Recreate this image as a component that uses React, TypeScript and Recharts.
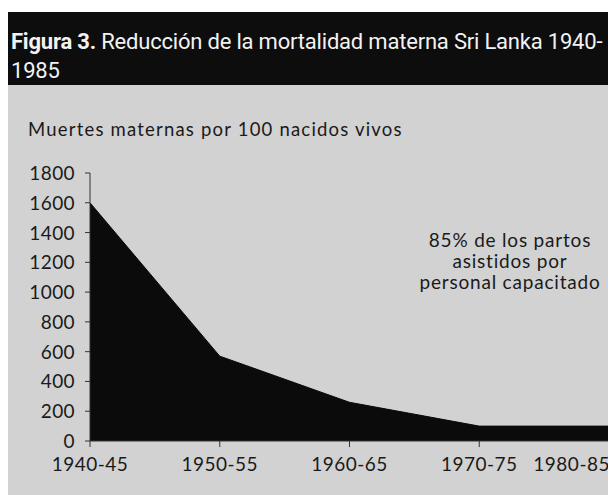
import React from 'react';
import { AreaChart, Area, XAxis, YAxis } from 'recharts';

const categories = ['1940-45', '1950-55', '1960-65', '1970-75', '1980-85'];
const deaths = [1600, 570, 260, 100, 100];
const yTicks = [0, 200, 400, 600, 800, 1000, 1200, 1400, 1600, 1800];

const data = categories.map((c, i) => ({ period: c, value: deaths[i] }));

const FONT = 'Lato, "Open Sans", sans-serif';

const XTick = (props: any) => {
  const { x, y, payload, index } = props;
  const last = index === categories.length - 1;
  return (
    <text
      x={last ? x + 1 : x}
      y={y + 22}
      textAnchor={last ? 'end' : 'middle'}
      fontFamily={FONT}
      fontSize={19}
      letterSpacing={0.5}
      fill="#1a1a1a"
    >
      {payload.value}
    </text>
  );
};

const YTick = (props: any) => {
  const { x, y, payload } = props;
  return (
    <text x={x} y={y + 7} textAnchor="end" fontFamily={FONT} fontSize={19} letterSpacing={0.4} fill="#1a1a1a">
      {payload.value}
    </text>
  );
};

export default function App() {
  return (
    <div style={{ width: 608, height: 483, marginTop: 4, position: 'relative', background: '#d2d2d2' }}>
      <div
        style={{
          height: 73,
          background: '#0d0d0d',
          color: '#f2f2f2',
          fontFamily: 'Roboto, sans-serif',
          fontSize: 22,
          letterSpacing: -0.2,
          lineHeight: '29px',
          padding: '15px 0 0 3px',
          boxSizing: 'border-box',
          whiteSpace: 'nowrap',
        }}
      >
        <span style={{ fontWeight: 700 }}>Figura 3.</span> Reducción de la mortalidad materna Sri Lanka 1940-
        <br />
        1985
      </div>
      <div
        style={{
          position: 'absolute',
          left: 20,
          top: 106,
          fontFamily: FONT,
          fontSize: 18.5,
          letterSpacing: 1.2,
          color: '#1a1a1a',
          whiteSpace: 'nowrap',
        }}
      >
        Muertes maternas por 100 nacidos vivos
      </div>
      <div
        style={{
          position: 'absolute',
          left: 402,
          top: 217,
          width: 200,
          textAlign: 'center',
          fontFamily: FONT,
          fontSize: 19,
          letterSpacing: 0.8,
          lineHeight: '21px',
          color: '#1a1a1a',
        }}
      >
        85% de los partos
        <br />
        asistidos por
        <br />
        personal capacitado
      </div>
      <AreaChart
        width={608}
        height={410}
        data={data}
        margin={{ top: 88, right: 7, bottom: 24, left: 0 }}
      >
        <XAxis
          dataKey="period"
          height={30}
          tickSize={6}
          tickMargin={2}
          stroke="#333"
          tick={<XTick />}
          interval={0}
        />
        <YAxis
          width={82}
          domain={[0, 1800]}
          ticks={yTicks}
          tickSize={5}
          tickMargin={10}
          stroke="#333"
          tick={<YTick />}
          interval={0}
        />
        <Area
          type="linear"
          dataKey="value"
          stroke="#0b0b0b"
          fill="#0b0b0b"
          fillOpacity={1}
          dot={false}
          activeDot={false}
          isAnimationActive={false}
        />
      </AreaChart>
    </div>
  );
}
